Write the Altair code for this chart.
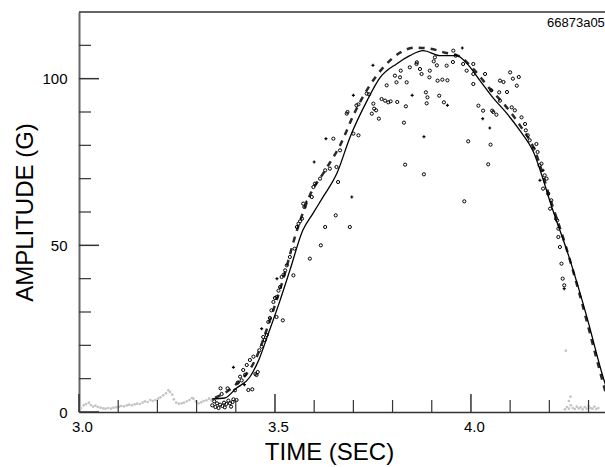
import altair as alt
import pandas as pd

# ---------------- data ----------------
# model curve (solid)
sol_t = [3.339, 3.372, 3.400, 3.436, 3.460, 3.480, 3.513, 3.538, 3.571, 3.597, 3.622, 3.658,
         3.691, 3.735, 3.768, 3.811, 3.844, 3.878, 3.921, 3.964, 3.990, 4.023, 4.056, 4.092,
         4.125, 4.158, 4.209, 4.253, 4.296, 4.337, 4.355]
sol_a = [3.9, 4.2, 7.0, 10.5, 16.0, 22.5, 33.5, 42.5, 54.5, 59.6, 64.4, 71.6,
         82.3, 93.4, 100.3, 104.5, 106.9, 108.4, 106.9, 106.9, 104.5, 99.4, 94.3, 89.5,
         84.4, 78.4, 60.5, 45.5, 28.4, 10.5, 4.0]

# smoothed data (dashed)
dash_t = [3.347, 3.398, 3.449, 3.487, 3.520, 3.556, 3.589, 3.628, 3.666, 3.704, 3.742, 3.781,
          3.819, 3.857, 3.895, 3.934, 3.972, 4.010, 4.048, 4.087, 4.125, 4.163, 4.202, 4.240,
          4.278, 4.316, 4.350]
dash_a = [4.2, 8.0, 15.5, 27.5, 39.5, 54.5, 65.0, 72.5, 80.0, 90.0, 98.0, 104.0,
          107.8, 109.3, 109.0, 107.8, 106.6, 102.4, 97.0, 92.0, 86.0, 78.4, 64.0, 50.5,
          35.0, 18.0, 3.0]

# measured samples (open circles)
circ_t = [3.340, 3.345, 3.348, 3.352, 3.356, 3.360, 3.361, 3.364, 3.366, 3.370, 3.372, 3.376,
          3.379, 3.381, 3.385, 3.388, 3.392, 3.394, 3.402, 3.398, 3.405, 3.411, 3.415, 3.419,
          3.424, 3.428, 3.432, 3.436, 3.442, 3.445, 3.450, 3.453, 3.456, 3.460, 3.466, 3.470,
          3.474, 3.479, 3.483, 3.487, 3.491, 3.496, 3.500, 3.504, 3.504, 3.509, 3.513, 3.517,
          3.520, 3.522, 3.526, 3.530, 3.538, 3.547, 3.550, 3.556, 3.560, 3.564, 3.569, 3.572,
          3.575, 3.589, 3.594, 3.598, 3.602, 3.615, 3.617, 3.628, 3.628, 3.640, 3.649, 3.655,
          3.657, 3.661, 3.666, 3.683, 3.685, 3.691, 3.700, 3.708, 3.713, 3.713, 3.734, 3.740,
          3.747, 3.751, 3.753, 3.758, 3.765, 3.772, 3.781, 3.785, 3.789, 3.795, 3.806, 3.810,
          3.812, 3.819, 3.821, 3.829, 3.832, 3.834, 3.836, 3.844, 3.861, 3.862, 3.870, 3.874,
          3.880, 3.885, 3.887, 3.889, 3.894, 3.895, 3.905, 3.908, 3.913, 3.915, 3.919, 3.927,
          3.931, 3.938, 3.940, 3.954, 3.955, 3.961, 3.980, 3.983, 3.989, 3.993, 4.006, 4.006,
          4.006, 4.019, 4.031, 4.036, 4.044, 4.050, 4.052, 4.054, 4.057, 4.065, 4.072, 4.074,
          4.074, 4.083, 4.092, 4.100, 4.104, 4.107, 4.112, 4.117, 4.122, 4.129, 4.138, 4.140,
          4.145, 4.150, 4.160, 4.167, 4.170, 4.175, 4.180, 4.184, 4.188, 4.193, 4.197, 4.202,
          4.205, 4.217, 4.220, 4.223, 4.223, 4.227, 4.231, 4.234, 4.238]
circ_a = [2.0, 3.2, 1.5, 2.6, 1.2, 2.2, 7.1, 5.4, 1.8, 2.8, 1.4, 2.4,
          7.1, 3.4, 2.6, 1.6, 3.0, 3.8, 3.6, 6.5, 8.8, 10.6, 9.5, 12.6,
          11.2, 14.1, 6.6, 15.6, 6.8, 16.6, 11.4, 11.1, 12.0, 18.5, 19.6, 22.5,
          21.6, 23.1, 27.0, 28.2, 30.5, 33.0, 34.2, 28.5, 34.5, 36.4, 37.5, 40.5,
          27.5, 41.2, 42.5, 44.0, 46.5, 41.0, 49.0, 55.5, 56.5, 57.2, 58.0, 62.5,
          61.5, 46.0, 64.5, 67.5, 68.5, 70.0, 50.0, 55.5, 72.5, 73.0, 82.0, 59.0,
          73.5, 69.0, 78.5, 89.5, 90.0, 55.5, 83.5, 92.0, 83.0, 92.3, 95.5, 95.3,
          89.5, 92.5, 91.0, 90.5, 88.0, 93.9, 93.4, 98.0, 92.9, 93.2, 100.9, 98.9,
          93.0, 100.4, 102.4, 86.8, 74.2, 91.7, 98.9, 103.4, 104.4, 104.9, 102.9, 101.4,
          71.3, 95.9, 92.6, 94.4, 100.4, 102.4, 105.2, 106.4, 104.0, 99.4, 94.9, 99.7,
          92.9, 103.9, 99.5, 105.0, 108.4, 106.9, 104.4, 63.2, 102.4, 81.2, 104.4, 101.4,
          98.4, 91.9, 90.4, 101.4, 74.3, 80.2, 96.5, 90.4, 90.0, 89.2, 95.9, 99.4,
          93.4, 99.0, 96.0, 101.9, 91.4, 100.0, 90.5, 97.9, 100.5, 88.4, 86.4, 84.5,
          83.0, 81.5, 79.0, 80.4, 78.0, 74.0, 74.5, 67.0, 71.0, 70.0, 65.5, 61.0,
          63.5, 58.0, 57.5, 55.0, 52.5, 49.5, 44.5, 40.0, 38.0]

# measured samples (small cross marks)
cross_t = [3.394, 3.422, 3.466, 3.505, 3.580, 3.600, 3.630, 3.696, 3.700, 3.750, 3.850,
           3.880, 3.940, 3.978, 4.030, 4.048, 4.176, 4.184, 4.238]
cross_a = [13.4, 8.2, 25.0, 40.0, 63.0, 75.0, 82.0, 64.5, 95.0, 104.0, 95.0,
           82.6, 92.0, 109.2, 88.0, 85.2, 69.5, 72.5, 37.0]

# background noise (gray)
gray_t = [3.005, 3.012, 3.018, 3.025, 3.030, 3.036, 3.042, 3.048, 3.055, 3.062, 3.068, 3.075,
          3.082, 3.088, 3.095, 3.102, 3.108, 3.115, 3.122, 3.128, 3.135, 3.142, 3.148, 3.155,
          3.162, 3.168, 3.175, 3.182, 3.188, 3.195, 3.202, 3.208, 3.215, 3.222, 3.228, 3.232,
          3.238, 3.242, 3.248, 3.255, 3.262, 3.268, 3.275, 3.282, 3.288, 3.292, 3.298, 3.305,
          3.312, 3.318, 3.325, 3.332, 3.338,
          4.240, 4.245, 4.250, 4.255, 4.260, 4.265, 4.270, 4.275, 4.280, 4.285, 4.290, 4.295,
          4.300, 4.305, 4.310, 4.315, 4.320, 4.325, 4.242, 4.254, 4.250]
gray_a = [1.2, 2.0, 2.4, 2.8, 2.1, 1.6, 1.9, 1.5, 1.3, 1.1, 1.0, 1.2,
          1.0, 1.3, 1.4, 1.6, 1.8, 1.7, 2.0, 2.2, 2.0, 2.3, 2.5, 2.4,
          2.8, 3.2, 3.0, 3.6, 3.3, 3.6, 4.0, 4.4, 5.0, 5.6, 6.5, 6.0,
          5.2, 3.8, 2.8, 2.5, 2.6, 2.8, 3.2, 3.6, 4.2, 4.0, 3.2, 2.6,
          2.9, 3.3, 3.5, 4.0, 3.5,
          0.8, 1.5, 1.0, 2.0, 1.2, 0.9, 1.6, 1.1, 1.4, 0.8, 1.5, 1.0,
          1.8, 1.2, 1.0, 1.6, 0.9, 1.2, 18.4, 4.6, 3.3]

x_major = [3.0, 3.5, 4.0]
x_minor = [3.1, 3.2, 3.3, 3.4, 3.6, 3.7, 3.8, 3.9, 4.1, 4.2, 4.3]
y_major = [0, 50, 100]
y_minor = [10, 20, 30, 40, 60, 70, 80, 90, 110]
annotation = ["66873a05"]

# ---------------- chart ----------------
W, H = 526, 400
XDOM = [3.0, 4.342]
YDOM = [0, 120]
FONT = "Liberation Sans"

xs = alt.Scale(domain=XDOM, nice=False, zero=False)
ys = alt.Scale(domain=YDOM, nice=False, zero=False)

xaxis = alt.Axis(values=x_major, format=".1f", ticks=False, grid=False, labelPadding=7,
                 labelOffset=3, title="TIME (SEC)", titlePadding=6, titleX=250,
                 domainColor="#333333", domainWidth=1.5,
                 labelFlush=False, labelFont=FONT, labelFontSize=15, labelColor="black",
                 titleFont=FONT, titleFontSize=24, titleFontWeight="normal", titleColor="black")
yaxis = alt.Axis(values=y_major, format="d", ticks=False, grid=False, labelPadding=12,
                 title="AMPLITUDE (G)", titlePadding=4, domainColor="#666666", domainWidth=2,
                 labelFont=FONT, labelFontSize=15, labelColor="black",
                 titleFont=FONT, titleFontSize=24, titleFontWeight="normal", titleColor="black")

gray = alt.Chart(pd.DataFrame({"t": gray_t, "a": gray_a})).mark_circle(
    size=7, color="#c4c4c4", opacity=1, clip=True
).encode(x=alt.X("t:Q", scale=xs, axis=xaxis), y=alt.Y("a:Q", scale=ys, axis=yaxis))

dashed = alt.Chart(pd.DataFrame({"t": dash_t, "a": dash_a})).mark_line(
    color="#2a2a2a", strokeWidth=2.5, strokeDash=[6, 6], clip=True, interpolate="monotone"
).encode(x=alt.X("t:Q", scale=xs), y=alt.Y("a:Q", scale=ys))

solid = alt.Chart(pd.DataFrame({"t": sol_t, "a": sol_a})).mark_line(
    color="black", strokeWidth=1.3, clip=True, interpolate="monotone"
).encode(x=alt.X("t:Q", scale=xs), y=alt.Y("a:Q", scale=ys))

circles = alt.Chart(pd.DataFrame({"t": circ_t, "a": circ_a})).mark_point(
    shape="circle", filled=False, size=10, strokeWidth=1, color="black", opacity=1, clip=True
).encode(x=alt.X("t:Q", scale=xs), y=alt.Y("a:Q", scale=ys))

crosses = alt.Chart(pd.DataFrame({"t": cross_t, "a": cross_a})).mark_point(
    shape="cross", filled=True, size=9, color="black", opacity=1, clip=True
).encode(x=alt.X("t:Q", scale=xs), y=alt.Y("a:Q", scale=ys))

xmaj = alt.Chart(pd.DataFrame({"t": x_major})).mark_rule(color="#333333", strokeWidth=1.5).encode(
    x=alt.X("t:Q", scale=xs), y=alt.value(H), y2=alt.value(H - 18))
xmin = alt.Chart(pd.DataFrame({"t": x_minor})).mark_rule(color="#333333", strokeWidth=1.2).encode(
    x=alt.X("t:Q", scale=xs), y=alt.value(H), y2=alt.value(H - 12))
ymaj = alt.Chart(pd.DataFrame({"a": y_major})).mark_rule(color="#333333", strokeWidth=1.5).encode(
    y=alt.Y("a:Q", scale=ys), x=alt.value(0), x2=alt.value(20))
ymin = alt.Chart(pd.DataFrame({"a": y_minor})).mark_rule(color="#333333", strokeWidth=1.2).encode(
    y=alt.Y("a:Q", scale=ys), x=alt.value(0), x2=alt.value(12))

top = alt.Chart(pd.DataFrame({"a": [YDOM[1]]})).mark_rule(color="#333333", strokeWidth=1.5).encode(
    y=alt.Y("a:Q", scale=ys), x=alt.value(0), x2=alt.value(W))

note = alt.Chart(pd.DataFrame({"txt": annotation})).mark_text(
    align="left", baseline="alphabetic", font=FONT, fontSize=13, color="black"
).encode(text="txt:N", x=alt.value(468), y=alt.value(15))

chart = alt.layer(
    gray, dashed, solid, circles, crosses, xmaj, xmin, ymaj, ymin, top, note
).properties(
    width=W, height=H,
    background="white",
    autosize=alt.AutoSizeParams(type="none"),
    padding={"left": 79, "top": 12, "right": 0, "bottom": 55},
).configure_view(
    stroke=None
)

chart.save("out.html", embed_options={"renderer": "svg", "actions": False})
